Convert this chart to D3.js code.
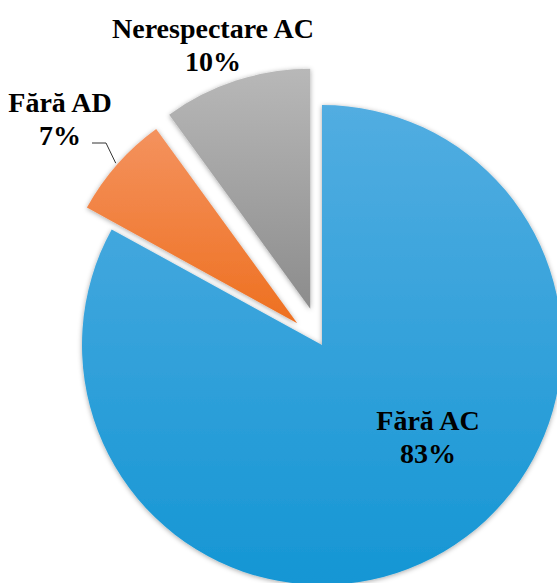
<!DOCTYPE html>
<html lang="ro">
<head>
<meta charset="utf-8">
<title>Pie</title>
<script src="https://cdn.jsdelivr.net/npm/d3@7"></script>
<style>
body { margin: 0; background: #fff; }
</style>
</head>
<body>
<script>
var categories = ["Fără AC", "Fără AD", "Nerespectare AC"];
var values = [83, 7, 10];
var percentLabels = ["83%", "7%", "10%"];
var colorsTop = ["#52ade1", "#f4925e", "#b8b8b8"];
var colorsBottom = ["#1596d4", "#ee7020", "#8c8c8c"];
var explode = [0, 33, 38];

var width = 557, height = 583;
var cx = 322, cy = 345, radius = 240;

var svg = d3.select("body").append("svg")
  .attr("width", width)
  .attr("height", height);

var defs = svg.append("defs");

var shadow = defs.append("filter")
  .attr("id", "shadow")
  .attr("x", "-10%").attr("y", "-10%")
  .attr("width", "120%").attr("height", "120%");
shadow.append("feDropShadow")
  .attr("dx", 0).attr("dy", 1)
  .attr("stdDeviation", 2.5)
  .attr("flood-color", "#000")
  .attr("flood-opacity", 0.35);

categories.forEach(function(c, i) {
  var g = defs.append("linearGradient")
    .attr("id", "grad" + i)
    .attr("x1", 0).attr("y1", 0).attr("x2", 0).attr("y2", 1);
  g.append("stop").attr("offset", "0%").attr("stop-color", colorsTop[i]);
  g.append("stop").attr("offset", "100%").attr("stop-color", colorsBottom[i]);
});

var pie = d3.pie().sort(null).value(function(d) { return d; });
var arcs = pie(values);

var arc = d3.arc().innerRadius(0).outerRadius(radius);

var chart = svg.append("g")
  .attr("transform", "translate(" + cx + "," + cy + ")");

chart.selectAll("path")
  .data(arcs)
  .enter().append("path")
  .attr("d", arc)
  .attr("fill", function(d, i) { return "url(#grad" + i + ")"; })
  .attr("filter", "url(#shadow)")
  .attr("transform", function(d, i) {
    var a = (d.startAngle + d.endAngle) / 2;
    return "translate(" + (Math.sin(a) * explode[i]) + "," + (-Math.cos(a) * explode[i]) + ")";
  });

// label positions (relative to the pie centre)
var labelPos = [[106, 85], [-262, -233], [-109, -307]];

var labels = chart.selectAll("text.lbl")
  .data(arcs)
  .enter().append("text")
  .attr("class", "lbl")
  .attr("text-anchor", "middle")
  .style("font-family", "'Liberation Serif', 'Times New Roman', serif")
  .style("font-weight", "bold")
  .style("font-size", "28px")
  .attr("fill", "#000")
  .attr("transform", function(d, i) { return "translate(" + labelPos[i][0] + "," + labelPos[i][1] + ")"; });

labels.append("tspan")
  .attr("x", 0).attr("y", 0)
  .text(function(d, i) { return categories[i]; });
labels.append("tspan")
  .attr("x", 0).attr("y", 33)
  .text(function(d, i) { return percentLabels[i]; });

// leader line for the small orange slice
var a1 = (arcs[1].startAngle + arcs[1].endAngle) / 2;
var tip = [Math.sin(a1) * (radius + explode[1] + 2), -Math.cos(a1) * (radius + explode[1] + 2)];
chart.append("polyline")
  .attr("points", [[-230, -202], [-216, -202], tip].join(" "))
  .attr("fill", "none")
  .attr("stroke", "#333")
  .attr("stroke-width", 1);
</script>
</body>
</html>
